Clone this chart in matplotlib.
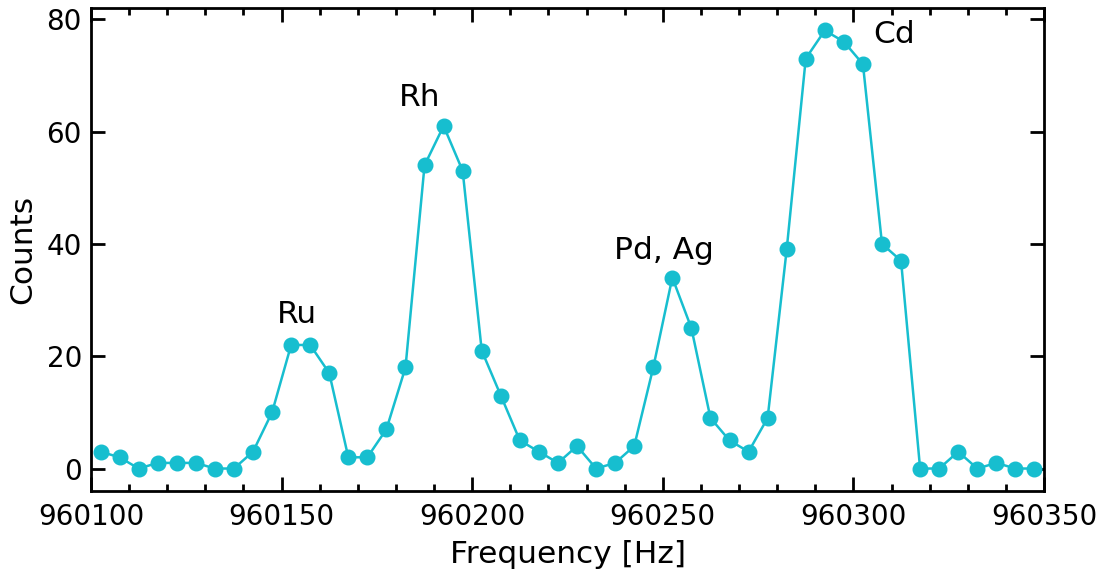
import matplotlib
matplotlib.use("Agg")
import matplotlib.pyplot as plt
import numpy as np
from matplotlib.ticker import MultipleLocator

freq_start = 960102.5
freq_step = 5.0
counts = [3, 2, 0, 1, 1, 1, 0, 0, 3, 10,
          22, 22, 17, 2, 2, 7, 18, 54, 61, 53,
          21, 13, 5, 3, 1, 4, 0, 1, 4, 18,
          34, 25, 9, 5, 3, 9, 39, 73, 78, 76,
          72, 40, 37, 0, 0, 3, 0, 1, 0, 0]
freq = [freq_start + freq_step * i for i in range(len(counts))]

labels = ["Ru", "Rh", "Pd, Ag", "Cd"]
label_x = [960154, 960186.2, 960250.4, 960310.7]
label_y = [27.4, 66.0, 38.9, 77.2]

fig = plt.figure(figsize=(11.04, 5.77), dpi=100)
ax = fig.add_axes([91/1104, 1 - 491/577, (1044 - 91)/1104, (491 - 8)/577])
ax.plot(freq, counts, '-o', color='#17becf', lw=1.8, markersize=10.5)

for t, x, y in zip(labels, label_x, label_y):
    ax.text(x, y, t, ha='center', va='center', fontsize=22.5)

ax.set_xlim(960100, 960350)
ax.set_ylim(-4, 82)
ax.xaxis.set_major_locator(MultipleLocator(50))
ax.xaxis.set_minor_locator(MultipleLocator(10))
ax.yaxis.set_major_locator(MultipleLocator(20))
ax.ticklabel_format(axis='x', useOffset=False, style='plain')
ax.tick_params(which='both', direction='in', top=True, right=True, labelsize=20, width=2)
ax.tick_params(which='major', length=10)
ax.tick_params(which='minor', length=5)
ax.tick_params(axis='x', which='major', pad=8.5)
ax.tick_params(axis='y', which='major', pad=6.5)
for s in ax.spines.values():
    s.set_linewidth(2)
ax.set_xlabel("Frequency [Hz]", fontsize=22.5, labelpad=6.5)
ax.set_ylabel("Counts", fontsize=22.5, labelpad=7)
fig.savefig("out.png", dpi=100)
